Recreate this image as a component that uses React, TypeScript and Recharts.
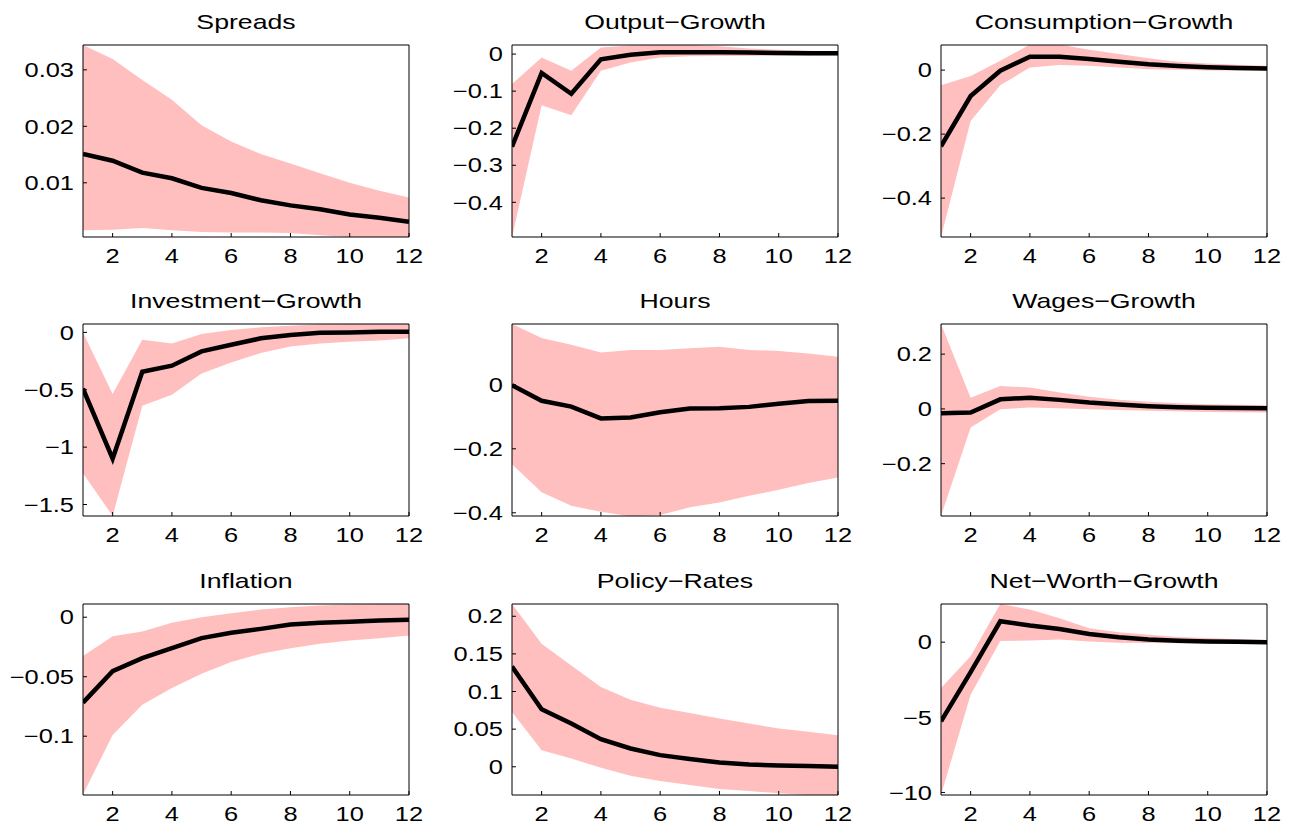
import React from 'react'
import { ComposedChart, Area, Line, XAxis, YAxis } from 'recharts'

// horizons (quarters after the shock)
const horizons = [1, 2, 3, 4, 5, 6, 7, 8, 9, 10, 11, 12]
const xTicks = [2, 4, 6, 8, 10, 12]

// median response and 68% bands, one set per variable
const spreadsMid = [0.0151, 0.0139, 0.0118, 0.0108, 0.0091, 0.0082, 0.0069, 0.006, 0.0053, 0.0044, 0.0038, 0.0031]
const spreadsHi = [0.0344, 0.0319, 0.0282, 0.0247, 0.0202, 0.0173, 0.0151, 0.0134, 0.0117, 0.01, 0.0086, 0.0074]
const spreadsLo = [0.0016, 0.0017, 0.002, 0.0016, 0.0013, 0.0012, 0.0012, 0.0011, 0.0007, 0.0004, 0.0004, 0.0004]
const spreadsTicks = [0.01, 0.02, 0.03]

const outputMid = [-0.25, -0.051, -0.107, -0.014, -0.002, 0.005, 0.005, 0.005, 0.004, 0.003, 0.002, 0.002]
const outputHi = [-0.081, -0.009, -0.045, 0.018, 0.023, 0.025, 0.025, 0.021, 0.015, 0.012, 0.009, 0.007]
const outputLo = [-0.494, -0.138, -0.165, -0.045, -0.023, -0.009, -0.006, -0.005, -0.005, -0.004, -0.004, -0.004]
const outputTicks = [-0.4, -0.3, -0.2, -0.1, 0]

const consMid = [-0.238, -0.081, -0.002, 0.042, 0.042, 0.035, 0.026, 0.018, 0.013, 0.009, 0.007, 0.005]
const consHi = [-0.047, -0.018, 0.029, 0.08, 0.08, 0.064, 0.05, 0.037, 0.026, 0.021, 0.017, 0.014]
const consLo = [-0.522, -0.159, -0.047, 0.008, 0.016, 0.014, 0.008, 0.003, 0.001, -0.001, -0.001, -0.001]
const consTicks = [-0.4, -0.2, 0]

const invMid = [-0.49, -1.1, -0.343, -0.29, -0.166, -0.108, -0.052, -0.023, -0.003, 0, 0.005, 0.006]
const invHi = [0, -0.538, -0.064, -0.096, -0.015, 0.02, 0.044, 0.058, 0.07, 0.073, 0.073, 0.073]
const invLo = [-1.227, -1.6, -0.64, -0.544, -0.358, -0.262, -0.18, -0.122, -0.096, -0.081, -0.07, -0.052]
const invTicks = [-1.5, -1, -0.5, 0]

const hoursMid = [-0.001, -0.05, -0.068, -0.105, -0.102, -0.086, -0.074, -0.073, -0.069, -0.059, -0.051, -0.05]
const hoursHi = [0.19, 0.146, 0.125, 0.101, 0.109, 0.109, 0.114, 0.119, 0.109, 0.106, 0.098, 0.0875]
const hoursLo = [-0.248, -0.336, -0.378, -0.397, -0.411, -0.407, -0.383, -0.368, -0.347, -0.328, -0.307, -0.29]
const hoursTicks = [-0.4, -0.2, 0]

const wagesMid = [-0.016, -0.013, 0.035, 0.041, 0.033, 0.023, 0.016, 0.01, 0.006, 0.004, 0.003, 0.002]
const wagesHi = [0.31, 0.041, 0.084, 0.078, 0.06, 0.044, 0.033, 0.026, 0.021, 0.017, 0.015, 0.013]
const wagesLo = [-0.391, -0.068, -0.001, 0.005, 0.002, -0.001, -0.004, -0.007, -0.009, -0.011, -0.012, -0.013]
const wagesTicks = [-0.2, 0, 0.2]

const inflMid = [-0.0718, -0.0453, -0.0344, -0.026, -0.0176, -0.0131, -0.0098, -0.0061, -0.0047, -0.0039, -0.0028, -0.0022]
const inflHi = [-0.0327, -0.0159, -0.012, -0.0047, 0, 0.0034, 0.0064, 0.0084, 0.0098, 0.0106, 0.011, 0.011]
const inflLo = [-0.149, -0.099, -0.0735, -0.0595, -0.0475, -0.0377, -0.0307, -0.026, -0.0223, -0.0196, -0.0176, -0.0154]
const inflTicks = [-0.1, -0.05, 0]

const policyMid = [0.1333, 0.0764, 0.0574, 0.0366, 0.0243, 0.0155, 0.0102, 0.0057, 0.003, 0.0018, 0.0009, 0]
const policyHi = [0.2163, 0.1634, 0.1347, 0.106, 0.0892, 0.0786, 0.0715, 0.064, 0.0574, 0.0508, 0.0464, 0.0419]
const policyLo = [0.0728, 0.0221, 0.011, -0.0013, -0.012, -0.019, -0.0243, -0.0296, -0.0322, -0.0353, -0.0375, -0.0375]
const policyTicks = [0, 0.05, 0.1, 0.15, 0.2]

const nwMid = [-5.27, -1.99, 1.39, 1.11, 0.88, 0.55, 0.33, 0.18, 0.09, 0.04, 0.02, 0]
const nwHi = [-3.05, -0.93, 2.54, 2.17, 1.59, 0.93, 0.66, 0.49, 0.35, 0.27, 0.2, 0.15]
const nwLo = [-10.17, -3.5, 0.07, 0.11, 0.18, 0.04, -0.04, -0.06, -0.08, -0.09, -0.09, -0.09]
const nwTicks = [-10, -5, 0]

const panels = [
  { title: 'Spreads', mid: spreadsMid, lo: spreadsLo, hi: spreadsHi, ticks: spreadsTicks, domain: [0.0004, 0.0344] },
  { title: 'Output\u2212Growth', mid: outputMid, lo: outputLo, hi: outputHi, ticks: outputTicks, domain: [-0.4935, 0.0245] },
  { title: 'Consumption\u2212Growth', mid: consMid, lo: consLo, hi: consHi, ticks: consTicks, domain: [-0.5215, 0.0785] },
  { title: 'Investment\u2212Growth', mid: invMid, lo: invLo, hi: invHi, ticks: invTicks, domain: [-1.6, 0.073] },
  { title: 'Hours', mid: hoursMid, lo: hoursLo, hi: hoursHi, ticks: hoursTicks, domain: [-0.41, 0.19] },
  { title: 'Wages\u2212Growth', mid: wagesMid, lo: wagesLo, hi: wagesHi, ticks: wagesTicks, domain: [-0.391, 0.31] },
  { title: 'Inflation', mid: inflMid, lo: inflLo, hi: inflHi, ticks: inflTicks, domain: [-0.1494, 0.0111] },
  { title: 'Policy\u2212Rates', mid: policyMid, lo: policyLo, hi: policyHi, ticks: policyTicks, domain: [-0.0375, 0.2163] },
  { title: 'Net\u2212Worth\u2212Growth', mid: nwMid, lo: nwLo, hi: nwHi, ticks: nwTicks, domain: [-10.17, 2.54] },
]

// grid geometry (plot boxes)
const COL_LEFT = [83, 512, 941]
const ROW_TOP = [45, 324, 604]
const ROW_H = [192, 192, 191]
const PLOT_W = 326
const LEFT_SPACE = 80
const RIGHT_SPACE = 24
const BOTTOM_SPACE = 40
const TICK = 4
const STRETCH = 1.27
const FONT = '"Liberation Sans", Arial, Helvetica, sans-serif'
const BAND = '#ffbfbf'

const fmt = (v: number) => String(v).replace('-', '\u2212')

function XTick({ x, y, payload }: any) {
  return (
    <text
      transform={`translate(${x},${y}) scale(${STRETCH},1)`}
      textAnchor="middle"
      dy="0.71em"
      fontSize={20}
      fontFamily={FONT}
      fill="#000"
    >
      {fmt(payload.value)}
    </text>
  )
}

function YTick({ x, y, payload }: any) {
  return (
    <text
      transform={`translate(${x},${y}) scale(${STRETCH},1)`}
      textAnchor="end"
      dy="0.36em"
      fontSize={20}
      fontFamily={FONT}
      fill="#000"
    >
      {fmt(payload.value)}
    </text>
  )
}

function Panel({ p, col, row }: any) {
  const h = ROW_H[row]
  const rows = horizons.map((k, i) => ({ h: k, mid: p.mid[i], band: [p.lo[i], p.hi[i]] }))
  return (
    <div style={{ position: 'absolute', left: COL_LEFT[col] - LEFT_SPACE, top: ROW_TOP[row] - 2 }}>
      <ComposedChart
        width={LEFT_SPACE + PLOT_W + RIGHT_SPACE}
        height={2 + h + BOTTOM_SPACE}
        data={rows}
        margin={{ top: 0, right: 0, bottom: 0, left: 0 }}
      >
        <XAxis
          xAxisId="b"
          dataKey="h"
          type="number"
          domain={[1, 12]}
          ticks={xTicks}
          interval={0}
          allowDataOverflow
          height={BOTTOM_SPACE}
          tickSize={-TICK}
          tickMargin={TICK + 12}
          tick={<XTick />}
          stroke="#000"
        />
        <XAxis
          xAxisId="t"
          orientation="top"
          dataKey="h"
          type="number"
          domain={[1, 12]}
          ticks={xTicks}
          interval={0}
          allowDataOverflow
          height={2}
          tickSize={-TICK}
          tick={false}
          stroke="#000"
        />
        <YAxis
          yAxisId="l"
          type="number"
          domain={p.domain}
          ticks={p.ticks}
          interval={0}
          allowDataOverflow
          width={LEFT_SPACE}
          tickSize={-TICK}
          tickMargin={TICK + 9}
          tick={<YTick />}
          stroke="#000"
        />
        <YAxis
          yAxisId="r"
          orientation="right"
          type="number"
          domain={p.domain}
          ticks={p.ticks}
          interval={0}
          allowDataOverflow
          width={RIGHT_SPACE}
          tickSize={-TICK}
          tick={false}
          stroke="#000"
        />
        <Area
          xAxisId="b"
          yAxisId="l"
          type="linear"
          dataKey="band"
          stroke="none"
          fill={BAND}
          fillOpacity={1}
          isAnimationActive={false}
        />
        <Line
          xAxisId="b"
          yAxisId="l"
          type="linear"
          dataKey="mid"
          stroke="#000"
          strokeWidth={4.5}
          dot={false}
          isAnimationActive={false}
        />
      </ComposedChart>
    </div>
  )
}

export default function App() {
  return (
    <div style={{ position: 'absolute', left: 0, top: 0, width: 1297, height: 828, background: '#fff' }}>
      {panels.map((p, i) => (
        <Panel key={p.title} p={p} col={i % 3} row={Math.floor(i / 3)} />
      ))}
      <svg width={1297} height={828} style={{ position: 'absolute', left: 0, top: 0, pointerEvents: 'none' }}>
        {panels.map((p, i) => {
          const cx = COL_LEFT[i % 3] + PLOT_W / 2
          const by = ROW_TOP[Math.floor(i / 3)] - 16
          return (
            <text
              key={p.title}
              transform={`translate(${cx},${by}) scale(${STRETCH},1)`}
              textAnchor="middle"
              fontSize={21}
              fontFamily={FONT}
              fill="#000"
            >
              {p.title}
            </text>
          )
        })}
      </svg>
    </div>
  )
}
